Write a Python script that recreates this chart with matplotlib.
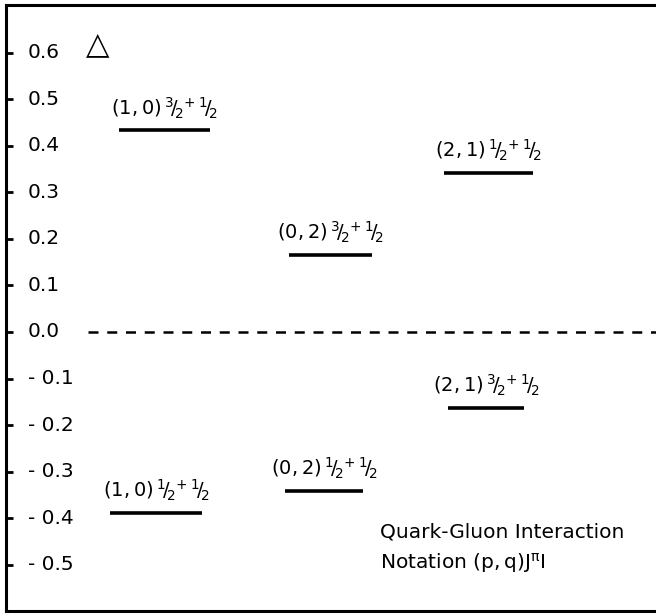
import matplotlib
matplotlib.use("Agg")
import matplotlib.pyplot as plt

plt.rcParams['font.family'] = ['DejaVu Sans']
plt.rcParams['mathtext.fontset'] = 'dejavusans'
plt.rcParams['mathtext.default'] = 'regular'

# data
level_labels = [
    r'$(1,0)\,^{3}\!/\!_{2}{}^{+}\,^{1}\!/\!_{2}$',
    r'$(1,0)\,^{1}\!/\!_{2}{}^{+}\,^{1}\!/\!_{2}$',
    r'$(0,2)\,^{3}\!/\!_{2}{}^{+}\,^{1}\!/\!_{2}$',
    r'$(0,2)\,^{1}\!/\!_{2}{}^{+}\,^{1}\!/\!_{2}$',
    r'$(2,1)\,^{1}\!/\!_{2}{}^{+}\,^{1}\!/\!_{2}$',
    r'$(2,1)\,^{3}\!/\!_{2}{}^{+}\,^{1}\!/\!_{2}$',
]
level_values = [0.433, -0.389, 0.165, -0.341, 0.341, -0.163]
level_x = [1.58, 1.50, 3.24, 3.18, 4.82, 4.80]
level_halfwidth = [0.455, 0.46, 0.415, 0.39, 0.445, 0.38]
ytick_values = [0.6, 0.5, 0.4, 0.3, 0.2, 0.1, 0.0, -0.1, -0.2, -0.3, -0.4, -0.5]
ytick_labels = ['0.6', '0.5', '0.4', '0.3', '0.2', '0.1', '0.0',
                '- 0.1', '- 0.2', '- 0.3', '- 0.4', '- 0.5']

W, H = 656, 614
fig = plt.figure(figsize=(W / 100, H / 100), dpi=100)
ax = fig.add_axes([6 / W, 3 / H, 650 / W, 606 / H])
ax.set_xlim(0, 6.5)
ax.set_ylim(-0.599, 0.702)

for sp in ['left', 'top', 'bottom']:
    ax.spines[sp].set_linewidth(2.2)
ax.spines['right'].set_visible(False)

ax.set_xticks([])
ax.set_yticks(ytick_values)
ax.set_yticklabels([])
ax.tick_params(axis='y', direction='in', length=5, width=2)
for v, t in zip(ytick_values, ytick_labels):
    ax.text(0.22, v, t, fontsize=14.5, ha='left', va='center')

# zero line
ax.plot([0.82, 6.5], [0, 0], color='black', lw=1.8, dashes=(4, 3.5))

# levels
for lab, v, x, hw in zip(level_labels, level_values, level_x, level_halfwidth):
    ax.plot([x - hw, x + hw], [v, v], color='black', lw=2.6, solid_capstyle='butt')
    ax.annotate(lab, (x, v), xytext=(0, 7), textcoords='offset points',
                ha='center', va='bottom', fontsize=14)

# axis label
ax.text(0.92, 0.617, '\u25B3', fontsize=22, ha='center', va='center')

ax.text(3.74, -0.429, 'Quark-Gluon Interaction', fontsize=14.5, ha='left', va='center')
ax.text(3.74, -0.496, r'Notation $(p,q)J^{\pi}I$', fontsize=14.5, ha='left', va='center')

fig.savefig('out.png', dpi=100)
